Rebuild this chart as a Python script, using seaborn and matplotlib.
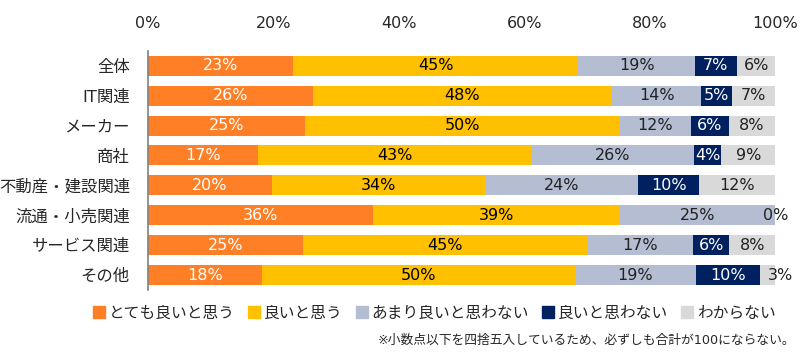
import numpy as np
import pandas as pd
import matplotlib
matplotlib.use("Agg")
import matplotlib.pyplot as plt
from matplotlib.lines import Line2D
import seaborn as sns

# ===== DATA =====
categories = ['全体', 'IT関連', 'メーカー', '商社', '不動産・建設関連',
              '流通・小売関連', 'サービス関連', 'その他']
series_names = ['とても良いと思う', '良いと思う', 'あまり良いと思わない',
                '良いと思わない', 'わからない']

very_good = [23.1, 26.3, 25.1, 17.6, 19.7, 35.8, 24.7, 18.1]
good = [45.5, 47.7, 50.0, 43.4, 34.2, 39.4, 45.4, 50.0]
not_really = [18.6, 14.2, 11.5, 26.1, 24.2, 24.8, 16.8, 19.2]
not_good = [6.7, 4.9, 6.0, 4.3, 9.8, 0.0, 5.8, 10.3]
dont_know = [6.1, 6.9, 7.4, 8.6, 12.1, 0.0, 7.3, 2.4]

# printed labels (rounded values as shown on the chart)
lab_very_good = [23, 26, 25, 17, 20, 36, 25, 18]
lab_good = [45, 48, 50, 43, 34, 39, 45, 50]
lab_not_really = [19, 14, 12, 26, 24, 25, 17, 19]
lab_not_good = [7, 5, 6, 4, 10, 0, 6, 10]
lab_dont_know = [6, 7, 8, 9, 12, 0, 8, 3]

# ===== COLORS =====
colors = ['#FF7F27', '#FFC000', '#B4BDD1', '#002060', '#D9D9D9']
text_colors = ['white', 'black', '#222222', 'white', '#222222']

sns.set_style('white')
plt.rcParams['font.family'] = ['DejaVu Sans', 'Noto Sans CJK JP']

values = np.array([very_good, good, not_really, not_good, dont_know])
labels = [lab_very_good, lab_good, lab_not_really, lab_not_good, lab_dont_know]
cum = values.cumsum(axis=0)

fig = plt.figure(figsize=(8, 3.58), dpi=100)
ax = fig.add_axes([0.185, 0.19, 0.784, 0.668])

# stacked bars: draw cumulative totals from the outside in
for i in range(len(series_names) - 1, -1, -1):
    df = pd.DataFrame({'cat': categories, 'val': cum[i]})
    sns.barplot(data=df, x='val', y='cat', orient='h', color=colors[i],
                saturation=1, width=0.67, linewidth=0, ax=ax)

# ===== LABELS =====
for i in range(len(series_names)):
    start = cum[i] - values[i]
    for j in range(len(categories)):
        if values[i][j] == 0 and i != len(series_names) - 1:
            continue
        x = start[j] + values[i][j] / 2
        if 0 < values[i][j] < 4:
            x = max(x, 100.8)
        ax.text(x, j, f'{labels[i][j]}%', ha='center', va='center',
                fontsize=11.5, color=text_colors[i], clip_on=False)

# ===== AXES =====
ax.set_xlim(0, 100)
ax.set_xticks(range(0, 101, 20))
ax.set_xticklabels([f'{t}%' for t in range(0, 101, 20)])
ax.xaxis.tick_top()
ax.tick_params(axis='x', length=0, pad=14, labelsize=11.5)
ax.tick_params(axis='y', length=0, pad=13, labelsize=11.8)
ax.set_xlabel('')
ax.set_ylabel('')
for s in ['top', 'right', 'bottom']:
    ax.spines[s].set_visible(False)
ax.spines['left'].set_color('#808080')
ax.spines['left'].set_linewidth(1.2)

# ===== LEGEND =====
handles = [Line2D([0], [0], marker='s', linestyle='none', markersize=8,
                  markerfacecolor=c, markeredgecolor=c) for c in colors]
fig.legend(handles, series_names, loc='center', bbox_to_anchor=(0.542, 0.125),
           ncol=5, frameon=False, fontsize=11.3, handletextpad=0.15,
           columnspacing=0.7, handlelength=1.0)

fig.text(0.994, 0.05, '※小数点以下を四捨五入しているため、必ずしも合計が100にならない。',
         ha='right', va='center', fontsize=9.2)

fig.savefig('out.png', dpi=100)
